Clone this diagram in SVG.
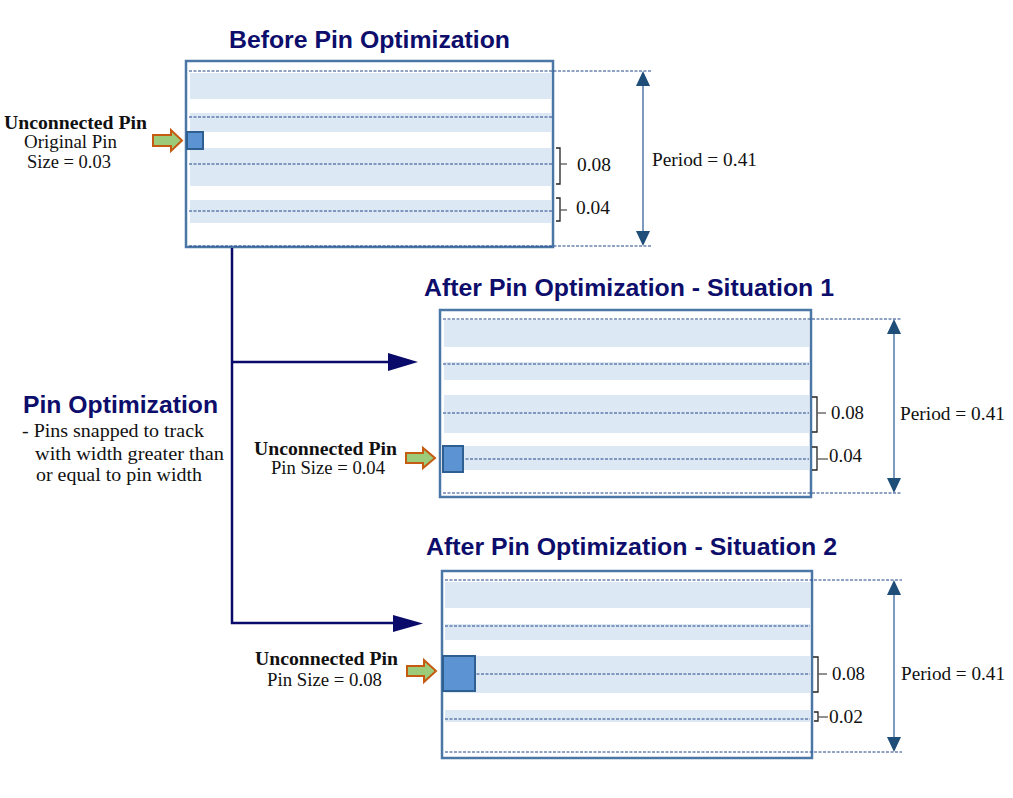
<svg xmlns="http://www.w3.org/2000/svg" width="1013" height="798" viewBox="0 0 1013 798">
<style>
.title{font-family:"Liberation Sans",Arial,sans-serif;font-weight:bold;font-size:24px;fill:#0d0d6b}
.lbl{font-family:"Liberation Serif","Times New Roman",serif;font-size:19px;fill:#111}
.lblb{font-family:"Liberation Serif","Times New Roman",serif;font-size:19px;font-weight:bold;fill:#111}
.box{fill:#fff;stroke:#4a77a6;stroke-width:2.5}
.stripe{fill:#dde8f5}
.dash{stroke:#23468a;stroke-width:1;stroke-dasharray:3 1.5;fill:none}
.pin{fill:#5b93d3;stroke:#2e5f90;stroke-width:2}
.parrow{fill:#9ccb7a;stroke:#c55a11;stroke-width:2}
.brace{fill:none;stroke:#222;stroke-width:1.3}
.tick{stroke:#555;stroke-width:1.3}
.pline{stroke:#7d9bbf;stroke-width:2}
.phead{fill:#1f4e79}
.conn{fill:none;stroke:#0a0a6a;stroke-width:2.5}
.chead{fill:#0a0a6a}
</style>

<g id="before">
  <text class="title" x="229" y="48" textLength="281" lengthAdjust="spacingAndGlyphs">Before Pin Optimization</text>
  <rect class="box" x="186" y="61" width="367" height="186"/>
  <rect class="stripe" x="190" y="73" width="361" height="26"/>
  <rect class="stripe" x="190" y="113" width="361" height="19"/>
  <rect class="stripe" x="190" y="148" width="361" height="38"/>
  <rect class="stripe" x="190" y="200" width="361" height="23"/>
  <line class="dash" x1="189" y1="71" x2="652" y2="71"/>
  <line class="dash" x1="189" y1="117" x2="552" y2="117"/>
  <line class="dash" x1="189" y1="164" x2="552" y2="164"/>
  <line class="dash" x1="189" y1="211" x2="552" y2="211"/>
  <line class="dash" x1="189" y1="246" x2="652" y2="246"/>
  <rect class="pin" x="187" y="132" width="16" height="17"/>
  <polygon class="parrow" points="153,135 171,135 171,130 182,140.5 171,151 171,146 153,146"/>
  <text class="lblb" x="4" y="129" textLength="143" lengthAdjust="spacingAndGlyphs">Unconnected Pin</text>
  <text class="lbl" x="24" y="148" textLength="93" lengthAdjust="spacingAndGlyphs">Original Pin</text>
  <text class="lbl" x="27" y="168" textLength="84" lengthAdjust="spacingAndGlyphs">Size = 0.03</text>
  <path class="brace" d="M556,148 H560 V184 H556"/>
  <line class="tick" x1="560" y1="164" x2="567" y2="164"/>
  <text class="lbl" x="577" y="171" textLength="34" lengthAdjust="spacingAndGlyphs">0.08</text>
  <path class="brace" d="M556,198 H560 V221 H556"/>
  <line class="tick" x1="560" y1="210" x2="567" y2="210"/>
  <text class="lbl" x="576" y="214" textLength="34" lengthAdjust="spacingAndGlyphs">0.04</text>
  <line class="pline" x1="643" y1="84" x2="643" y2="233"/>
  <polygon class="phead" points="643,71 650,86 636,86"/>
  <polygon class="phead" points="643,246 650,231 636,231"/>
  <text class="lbl" x="652" y="166" textLength="105" lengthAdjust="spacingAndGlyphs">Period = 0.41</text>
</g>

<g id="situation1">
  <text class="title" x="424" y="296" textLength="410" lengthAdjust="spacingAndGlyphs">After Pin Optimization - Situation 1</text>
  <rect class="box" x="440" y="310" width="371" height="187"/>
  <rect class="stripe" x="444" y="320" width="365" height="27"/>
  <rect class="stripe" x="444" y="362" width="365" height="18"/>
  <rect class="stripe" x="444" y="395" width="365" height="38"/>
  <rect class="stripe" x="444" y="446" width="365" height="24"/>
  <line class="dash" x1="443" y1="319" x2="902" y2="319"/>
  <line class="dash" x1="443" y1="364" x2="809" y2="364"/>
  <line class="dash" x1="443" y1="413" x2="809" y2="413"/>
  <line class="dash" x1="443" y1="459" x2="809" y2="459"/>
  <line class="dash" x1="443" y1="493" x2="902" y2="493"/>
  <rect class="pin" x="443" y="446" width="20" height="26"/>
  <polygon class="parrow" points="406,453 423,453 423,448 435,458 423,468 423,463 406,463"/>
  <text class="lblb" x="254" y="455" textLength="143" lengthAdjust="spacingAndGlyphs">Unconnected Pin</text>
  <text class="lbl" x="271" y="474" textLength="114" lengthAdjust="spacingAndGlyphs">Pin Size = 0.04</text>
  <path class="brace" d="M812,397 H817 V432 H812"/>
  <line class="tick" x1="817" y1="413" x2="826" y2="413"/>
  <text class="lbl" x="831" y="419" textLength="33" lengthAdjust="spacingAndGlyphs">0.08</text>
  <path class="brace" d="M812,447 H817 V470 H812"/>
  <line class="tick" x1="817" y1="459" x2="828" y2="459"/>
  <text class="lbl" x="829" y="462" textLength="33" lengthAdjust="spacingAndGlyphs">0.04</text>
  <line class="pline" x1="894" y1="332" x2="894" y2="480"/>
  <polygon class="phead" points="894,319 901,334 887,334"/>
  <polygon class="phead" points="894,493 901,478 887,478"/>
  <text class="lbl" x="900" y="420" textLength="105" lengthAdjust="spacingAndGlyphs">Period = 0.41</text>
</g>

<g id="situation2">
  <text class="title" x="426" y="555" textLength="411" lengthAdjust="spacingAndGlyphs">After Pin Optimization - Situation 2</text>
  <rect class="box" x="442" y="571" width="370" height="187"/>
  <rect class="stripe" x="445" y="582" width="365" height="26"/>
  <rect class="stripe" x="445" y="624" width="365" height="16"/>
  <rect class="stripe" x="445" y="656" width="365" height="37"/>
  <rect class="stripe" x="445" y="710" width="365" height="12"/>
  <line class="dash" x1="445" y1="580" x2="902" y2="580"/>
  <line class="dash" x1="445" y1="626" x2="810" y2="626"/>
  <line class="dash" x1="445" y1="674" x2="810" y2="674"/>
  <line class="dash" x1="445" y1="719" x2="810" y2="719"/>
  <line class="dash" x1="445" y1="752" x2="902" y2="752"/>
  <rect class="pin" x="443" y="656" width="32" height="35"/>
  <polygon class="parrow" points="407,666 424,666 424,660 436,671 424,682 424,676 407,676"/>
  <text class="lblb" x="255" y="665" textLength="143" lengthAdjust="spacingAndGlyphs">Unconnected Pin</text>
  <text class="lbl" x="267" y="686" textLength="115" lengthAdjust="spacingAndGlyphs">Pin Size = 0.08</text>
  <path class="brace" d="M813,657 H818 V692 H813"/>
  <line class="tick" x1="818" y1="674" x2="827" y2="674"/>
  <text class="lbl" x="832" y="680" textLength="33" lengthAdjust="spacingAndGlyphs">0.08</text>
  <path class="brace" d="M814,712 H818 V721 H814"/>
  <line class="tick" x1="818" y1="717" x2="828" y2="717"/>
  <text class="lbl" x="829" y="723" textLength="34" lengthAdjust="spacingAndGlyphs">0.02</text>
  <line class="pline" x1="894" y1="593" x2="894" y2="739"/>
  <polygon class="phead" points="894,580 901,595 887,595"/>
  <polygon class="phead" points="894,752 901,737 887,737"/>
  <text class="lbl" x="901" y="680" textLength="104" lengthAdjust="spacingAndGlyphs">Period = 0.41</text>
</g>

<g id="pin-optimization">
  <text class="title" x="23" y="413" textLength="195" lengthAdjust="spacingAndGlyphs">Pin Optimization</text>
  <text class="lbl" x="22" y="437" textLength="182" lengthAdjust="spacingAndGlyphs">- Pins snapped to track</text>
  <text class="lbl" x="35" y="460" textLength="189" lengthAdjust="spacingAndGlyphs">with width greater than</text>
  <text class="lbl" x="36" y="481" textLength="166" lengthAdjust="spacingAndGlyphs">or equal to pin width</text>
</g>

<g id="connectors">
  <path class="conn" d="M232,248 V623 H394"/>
  <path class="conn" d="M232,362 H389"/>
  <polygon class="chead" points="388,353 418,362 388,371"/>
  <polygon class="chead" points="393,615 423,623.5 393,632"/>
</g>
</svg>
